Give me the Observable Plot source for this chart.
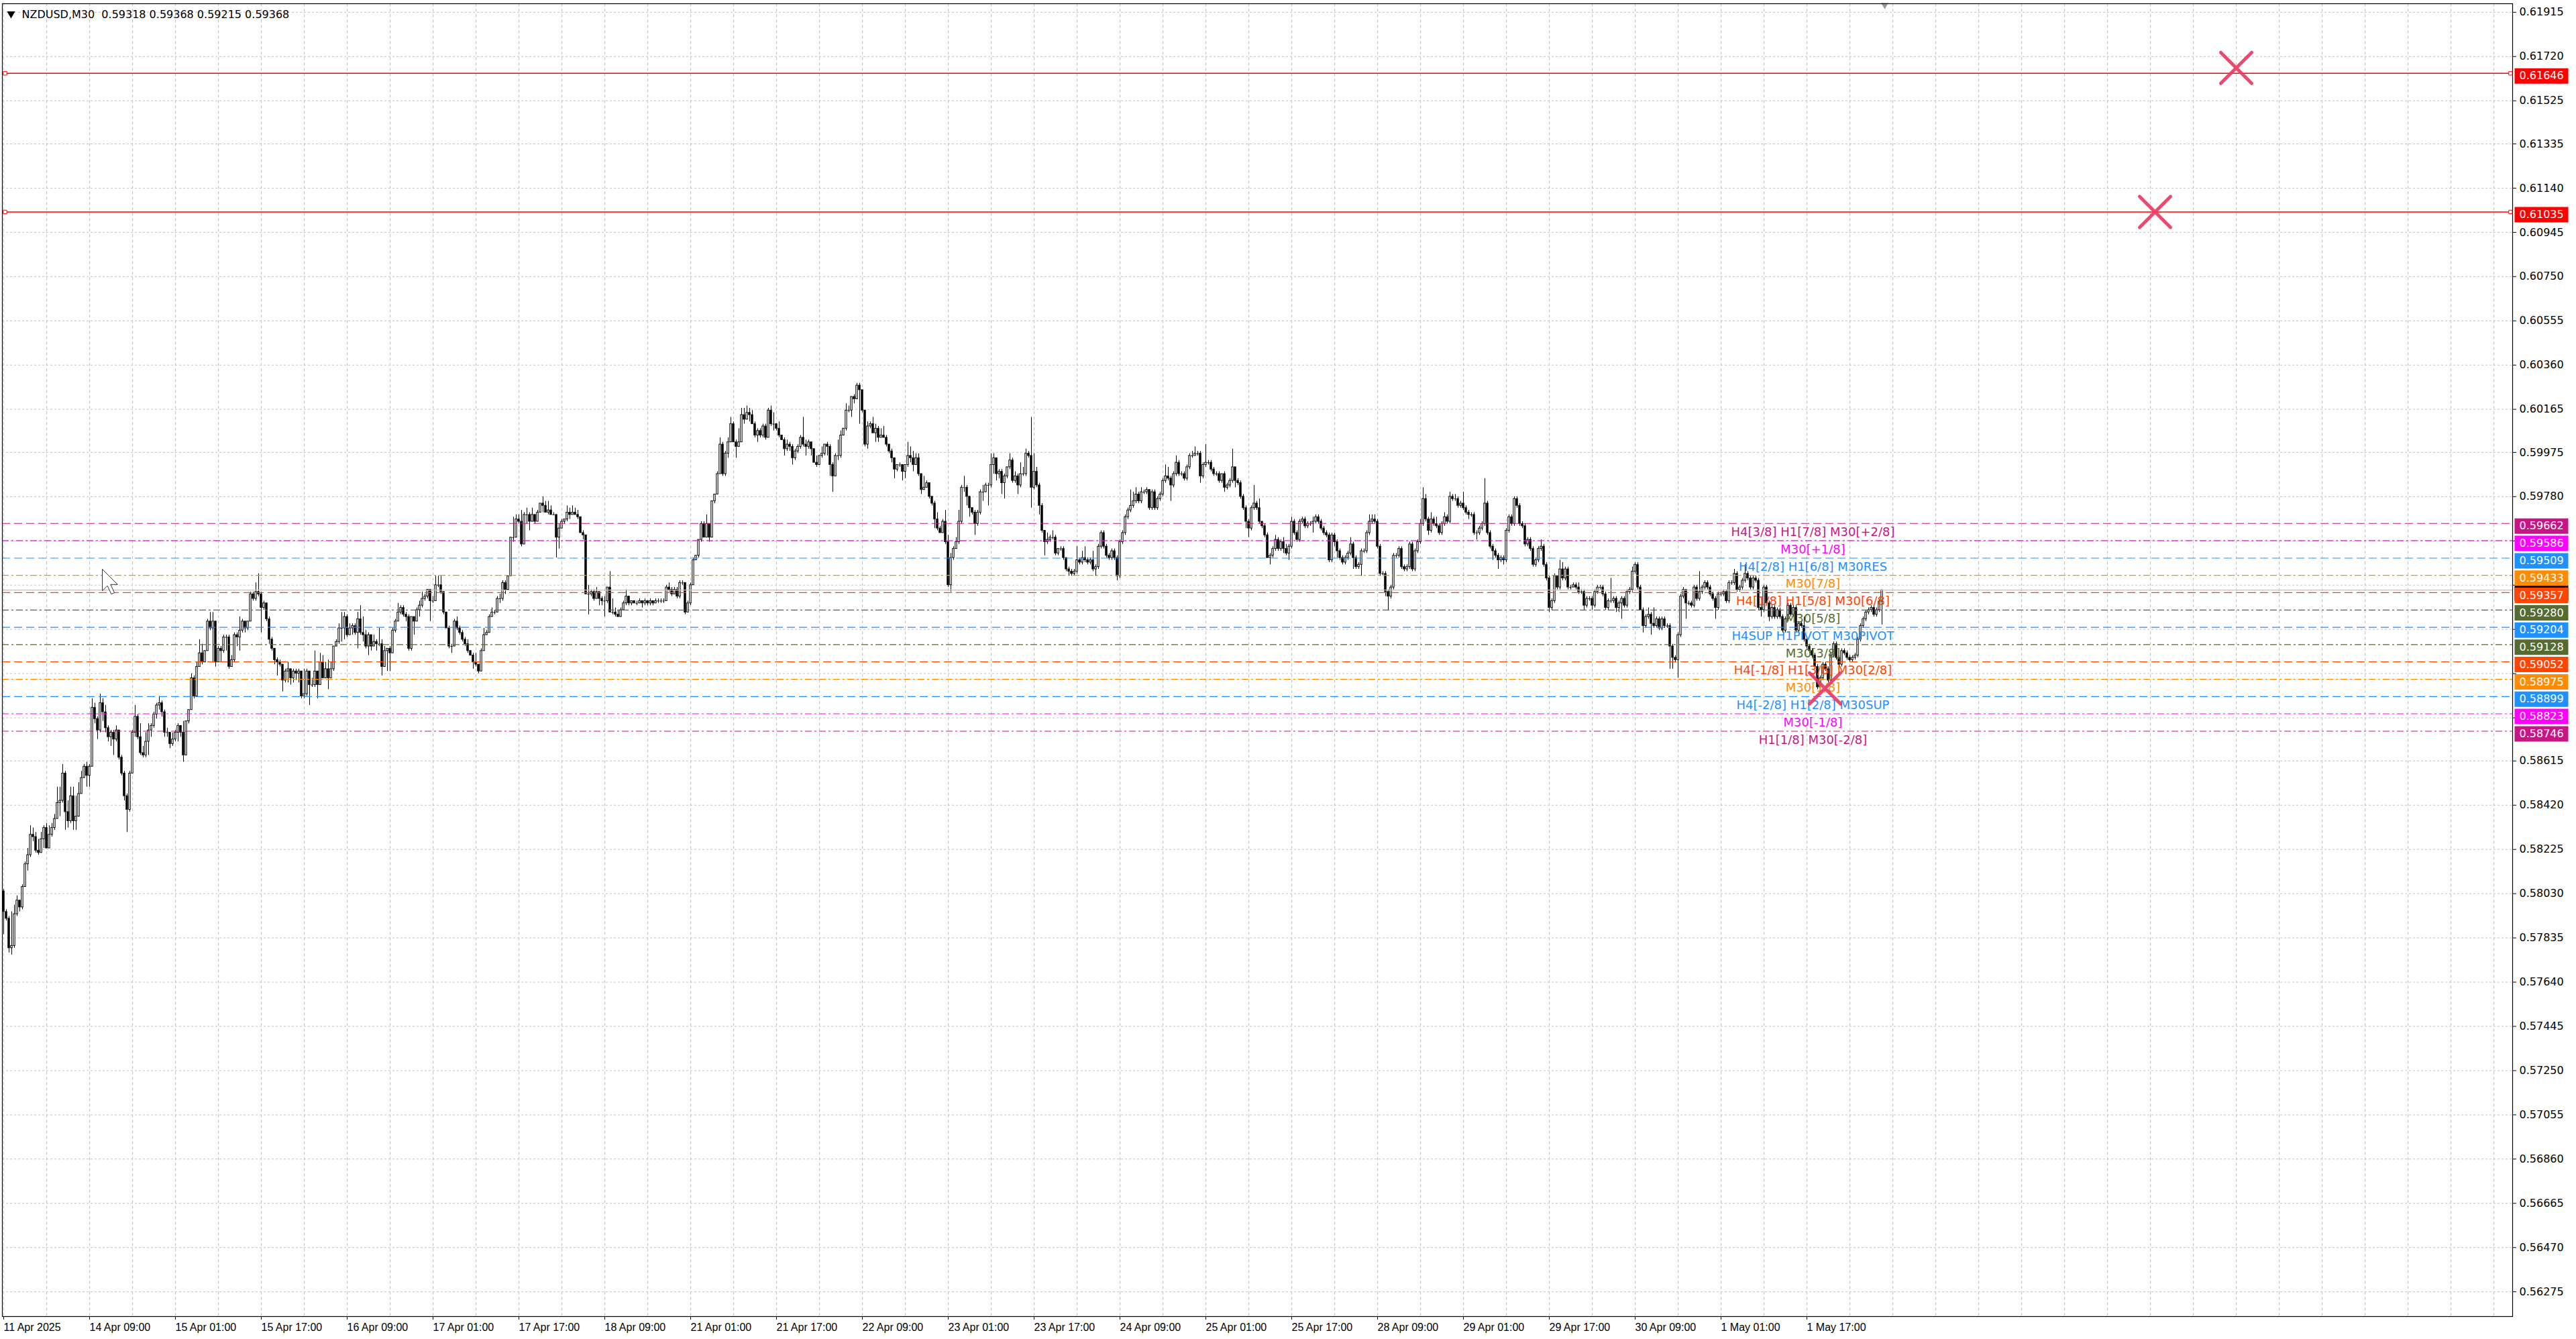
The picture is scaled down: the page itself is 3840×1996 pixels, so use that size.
<!DOCTYPE html>
<html><head><meta charset="utf-8">
<script src="https://cdn.jsdelivr.net/npm/d3@7"></script>
<script src="https://cdn.jsdelivr.net/npm/@observablehq/plot@0.6"></script>
<style>html,body{margin:0;padding:0;background:#fff;} #chart svg{display:block;}</style>
</head><body><div id="chart"></div>
<script>
const symbolName = "NZDUSD,M30";
const lastBarOHLC = [0.59318, 0.59368, 0.59215, 0.59368];
const firstOpen = 5804;
// M30 bars, prices in pips (x 1e-4)
const closePips = [
5795,5792,5779,5780,5794,5800,5797,5806,5816,5820,5829,5828,5822,5821,5827,5832,
5823,5829,5832,5836,5843,5844,5856,5839,5835,5846,5835,5837,5847,5854,5859,5855,
5859,5885,5880,5875,5887,5883,5876,5872,5874,5871,5875,5863,5856,5846,5840,5856,
5874,5881,5872,5865,5864,5870,5875,5877,5882,5886,5887,5883,5874,5874,5869,5871,
5874,5877,5874,5864,5879,5884,5898,5890,5903,5909,5905,5910,5923,5920,5923,5905,
5911,5910,5916,5916,5903,5906,5917,5916,5919,5923,5920,5923,5935,5933,5936,5935,
5929,5931,5924,5915,5911,5906,5905,5904,5897,5901,5902,5898,5901,5900,5901,5890,
5891,5901,5895,5895,5901,5895,5905,5898,5902,5898,5902,5912,5914,5920,5920,5925,
5917,5920,5921,5918,5924,5918,5917,5912,5917,5912,5914,5913,5913,5903,5910,5911,
5909,5919,5923,5927,5929,5926,5925,5911,5925,5923,5928,5930,5933,5934,5937,5932,
5932,5939,5939,5936,5927,5920,5912,5912,5923,5920,5918,5915,5913,5910,5908,5905,
5904,5901,5910,5917,5918,5925,5927,5927,5933,5933,5940,5937,5943,5960,5960,5968,
5967,5957,5970,5970,5967,5970,5967,5971,5975,5974,5971,5972,5970,5970,5960,5964,
5967,5968,5971,5970,5971,5970,5969,5962,5961,5935,5935,5936,5933,5936,5933,5932,
5932,5938,5927,5927,5926,5925,5928,5931,5934,5931,5932,5931,5931,5932,5931,5932,
5931,5932,5931,5932,5932,5932,5932,5938,5937,5935,5937,5934,5940,5940,5927,5931,
5939,5950,5952,5959,5966,5960,5966,5960,5976,5979,5988,6001,5988,5997,6002,6010,
6002,6000,6002,6014,6012,6015,6014,6010,6005,6007,6005,6009,6004,6016,6010,6010,
6008,6005,6003,5999,6001,6000,5995,5998,6000,6004,6001,6000,6002,5999,5993,5992,
5996,5997,6001,6000,5992,5987,5996,5996,6005,6008,6016,6016,6022,6021,6027,6025,
6016,6001,6009,6010,6006,6008,6004,6005,6004,6001,5998,5995,5990,5992,5992,5989,
5992,5996,5995,5992,5995,5988,5981,5982,5984,5978,5975,5968,5964,5962,5967,5958,
5939,5951,5955,5958,5967,5982,5982,5978,5973,5971,5966,5971,5980,5980,5983,5983,
5992,5995,5988,5989,5984,5987,5991,5994,5985,5987,5983,5988,5988,5997,5996,5982,
5989,5983,5974,5963,5958,5959,5960,5960,5953,5955,5955,5951,5946,5945,5944,5945,
5950,5949,5951,5950,5949,5950,5946,5947,5956,5962,5956,5952,5951,5954,5951,5943,
5958,5962,5969,5972,5974,5976,5979,5976,5980,5980,5981,5973,5980,5973,5977,5979,
5985,5987,5986,5983,5988,5993,5988,5988,5986,5991,5996,5996,5997,5997,5987,5992,
5993,5993,5990,5988,5988,5985,5988,5982,5983,5985,5991,5985,5984,5978,5973,5967,
5964,5973,5975,5973,5967,5965,5961,5951,5952,5955,5959,5955,5958,5955,5953,5956,
5967,5962,5959,5967,5968,5965,5966,5966,5967,5969,5967,5964,5962,5961,5950,5961,
5958,5954,5951,5949,5951,5953,5957,5951,5947,5948,5954,5954,5962,5967,5968,5967,
5956,5944,5944,5936,5934,5938,5952,5952,5955,5947,5946,5947,5957,5946,5954,5958,
5966,5977,5968,5963,5968,5966,5965,5962,5966,5969,5967,5978,5977,5977,5974,5975,
5973,5971,5970,5970,5962,5962,5964,5966,5975,5962,5956,5954,5952,5950,5951,5950,
5963,5969,5966,5977,5974,5966,5965,5957,5959,5955,5948,5950,5955,5956,5948,5942,
5929,5932,5943,5938,5946,5942,5946,5938,5938,5939,5938,5936,5936,5930,5933,5933,
5930,5936,5938,5938,5935,5929,5932,5932,5933,5929,5931,5933,5930,5936,5937,5945,
5948,5938,5928,5921,5925,5926,5922,5921,5924,5920,5924,5921,5921,5912,5907,5906,
5917,5934,5937,5931,5931,5930,5938,5933,5936,5938,5940,5938,5935,5933,5929,5935,
5935,5936,5932,5940,5940,5944,5937,5938,5941,5944,5942,5938,5942,5941,5929,5928,
5938,5931,5925,5929,5925,5928,5925,5919,5924,5930,5926,5929,5919,5922,5921,5915,
5912,5910,5908,5903,5894,5898,5904,5902,5897,5908,5913,5907,5904,5910,5909,5907,
5906,5907,5908,5915,5921,5924,5927,5928,5929,5926,5928,5931.8,5936.8
];
const highPips = [
5805,5796,5793,5795,5798,5802,5800,5807,5817,5823,5833,5832,5830,5827,5830,5833,
5834,5833,5834,5838,5850,5850,5860,5857,5844,5850,5850,5846,5852,5857,5860,5861,
5860,5889,5887,5881,5891,5889,5886,5877,5875,5875,5877,5875,5864,5857,5847,5857,
5875,5886,5882,5878,5868,5874,5878,5878,5883,5887,5890,5888,5884,5876,5872,5874,
5875,5878,5875,5879,5879,5884,5900,5899,5905,5915,5913,5910,5924,5927,5927,5923,
5912,5912,5917,5917,5917,5908,5918,5918,5925,5924,5923,5923,5936,5936,5940,5944,
5936,5932,5930,5925,5916,5911,5907,5906,5904,5902,5905,5902,5902,5902,5902,5901,
5902,5902,5901,5898,5910,5901,5909,5908,5905,5906,5905,5912,5915,5922,5927,5927,
5926,5922,5922,5922,5927,5930,5925,5919,5918,5917,5917,5915,5920,5915,5912,5911,
5912,5920,5924,5931,5930,5930,5927,5926,5925,5925,5929,5932,5936,5935,5937,5937,
5934,5943,5943,5943,5936,5927,5921,5913,5924,5925,5921,5919,5916,5915,5910,5909,
5909,5904,5911,5920,5919,5926,5929,5928,5934,5935,5941,5941,5943,5960,5969,5970,
5970,5972,5971,5973,5971,5973,5970,5972,5975,5978,5976,5976,5974,5971,5967,5966,
5968,5968,5974,5973,5974,5973,5972,5969,5963,5961,5939,5937,5937,5938,5936,5934,
5934,5938,5945,5933,5929,5928,5929,5932,5937,5934,5932,5932,5932,5933,5932,5933,
5932,5933,5932,5933,5933,5933,5933,5939,5940,5938,5938,5938,5941,5941,5932,5932,
5940,5951,5952,5959,5967,5967,5970,5966,5976,5979,5989,6004,6002,5998,6004,6013,
6011,6003,6008,6017,6017,6018,6017,6016,6011,6008,6008,6010,6010,6017,6018,6015,
6010,6011,6005,6004,6003,6002,6001,5999,6001,6005,6013,6003,6003,6002,5998,5996,
5996,6000,6001,6002,6001,5993,5997,6003,6007,6008,6019,6018,6022,6023,6028,6028,
6025,6016,6011,6011,6013,6010,6009,6008,6009,6005,6001,5999,5995,5992,5993,5992,
5992,6002,6000,5998,5997,5997,5988,5987,5985,5984,5978,5976,5971,5965,5968,5972,
5961,5953,5956,5960,5972,5983,5987,5983,5978,5973,5972,5972,5981,5983,5984,5984,
5997,5997,5995,5990,5990,5988,5991,5997,5995,5989,5988,5993,5991,5999,5998,6013,
5997,5991,5984,5975,5963,5962,5961,5963,5961,5955,5956,5956,5951,5947,5946,5946,
5956,5951,5954,5956,5951,5951,5954,5948,5957,5963,5963,5957,5953,5955,5955,5952,
5959,5963,5970,5973,5981,5980,5982,5980,5982,5981,5982,5981,5981,5981,5978,5980,
5986,5992,5991,5987,5989,5996,5994,5989,5989,5992,5997,5998,6000,5998,5998,5993,
6001,5994,5994,5991,5989,5989,5988,5989,5984,5986,5999,5991,5986,5985,5979,5974,
5968,5974,5983,5976,5977,5967,5966,5962,5953,5956,5961,5960,5959,5960,5957,5957,
5969,5968,5963,5968,5969,5969,5967,5967,5969,5970,5970,5968,5965,5963,5962,5962,
5962,5959,5955,5952,5952,5954,5960,5958,5952,5949,5955,5955,5963,5970,5970,5970,
5968,5957,5945,5945,5937,5939,5953,5953,5956,5956,5948,5948,5958,5958,5955,5959,
5968,5982,5979,5969,5971,5969,5969,5966,5967,5971,5970,5980,5979,5979,5978,5976,
5980,5974,5972,5971,5971,5963,5965,5967,5986,5976,5963,5957,5955,5953,5952,5952,
5964,5970,5970,5978,5978,5975,5967,5966,5960,5960,5956,5951,5956,5959,5957,5949,
5943,5933,5944,5943,5950,5949,5947,5947,5939,5940,5940,5940,5937,5937,5934,5934,
5934,5937,5939,5939,5939,5936,5933,5942,5934,5934,5932,5934,5934,5937,5938,5947,
5949,5949,5939,5929,5926,5929,5927,5929,5925,5925,5925,5925,5922,5922,5913,5908,
5918,5935,5938,5937,5932,5932,5939,5939,5945,5939,5941,5941,5939,5936,5934,5936,
5936,5937,5937,5941,5941,5946,5945,5939,5942,5948,5945,5943,5943,5943,5942,5930,
5939,5939,5932,5930,5930,5929,5929,5926,5925,5931,5931,5930,5930,5923,5923,5925,
5916,5913,5911,5909,5904,5899,5905,5905,5903,5909,5914,5914,5908,5911,5911,5910,
5908,5908,5909,5916,5922,5925,5928,5929,5930,5930,5929,5933,5936.8
];
const lowPips = [
5785,5791,5777,5776,5779,5793,5795,5796,5806,5813,5819,5826,5821,5820,5826,5823,
5823,5826,5828,5831,5836,5837,5843,5831,5832,5834,5831,5831,5842,5849,5854,5850,
5850,5860,5878,5871,5874,5879,5874,5870,5868,5864,5870,5862,5855,5844,5830,5839,
5856,5872,5871,5864,5863,5863,5864,5872,5876,5880,5884,5881,5872,5872,5867,5868,
5870,5870,5872,5861,5864,5878,5884,5889,5890,5905,5904,5905,5910,5919,5905,5903,
5906,5905,5909,5910,5902,5903,5905,5912,5910,5918,5918,5919,5923,5932,5932,5934,
5918,5928,5923,5913,5910,5904,5899,5903,5892,5896,5896,5895,5896,5897,5896,5889,
5889,5890,5886,5894,5894,5889,5895,5898,5898,5893,5899,5901,5912,5913,5914,5915,
5916,5917,5917,5917,5911,5917,5914,5911,5908,5910,5913,5910,5912,5899,5903,5901,
5901,5909,5918,5923,5926,5925,5923,5910,5910,5917,5923,5925,5929,5932,5933,5923,
5931,5932,5938,5935,5926,5920,5911,5909,5912,5919,5917,5914,5912,5909,5908,5902,
5903,5900,5901,5910,5917,5918,5925,5926,5927,5931,5932,5935,5937,5943,5958,5960,
5966,5956,5957,5966,5963,5968,5966,5968,5971,5971,5971,5970,5970,5970,5951,5955,
5964,5966,5967,5968,5970,5970,5968,5962,5959,5935,5926,5934,5932,5933,5930,5930,
5925,5931,5927,5926,5925,5925,5925,5928,5930,5930,5930,5931,5930,5931,5929,5930,
5930,5930,5930,5931,5931,5931,5931,5932,5936,5934,5935,5933,5933,5939,5926,5928,
5930,5939,5950,5951,5958,5960,5960,5958,5960,5975,5979,5988,5987,5987,5995,6002,
6002,5995,6000,6002,6010,6012,6011,6010,6004,6002,6004,6004,6003,6004,6009,6007,
6007,6004,6003,5996,5998,5998,5992,5994,5997,5999,6000,5996,5999,5996,5993,5991,
5992,5995,5996,5996,5987,5980,5987,5994,5995,6005,6007,6015,6013,6019,6021,6010,
6015,6000,5999,6008,6006,6002,6002,6004,6004,6000,5997,5993,5986,5989,5991,5985,
5986,5991,5993,5989,5992,5987,5979,5981,5983,5977,5974,5964,5963,5962,5962,5957,
5938,5936,5950,5955,5957,5966,5980,5974,5969,5970,5961,5965,5970,5976,5980,5974,
5982,5988,5985,5986,5979,5977,5986,5990,5984,5984,5979,5982,5987,5987,5995,5973,
5981,5982,5970,5962,5952,5957,5958,5959,5952,5952,5954,5950,5945,5943,5943,5943,
5944,5948,5948,5949,5948,5948,5945,5943,5946,5955,5955,5951,5950,5950,5950,5941,
5942,5957,5961,5968,5971,5973,5975,5975,5975,5979,5979,5972,5972,5972,5972,5976,
5978,5984,5985,5976,5982,5987,5987,5987,5985,5985,5990,5995,5996,5996,5984,5986,
5991,5992,5989,5987,5987,5984,5984,5980,5981,5982,5984,5982,5983,5977,5972,5964,
5960,5963,5972,5972,5966,5964,5960,5951,5948,5951,5954,5954,5954,5953,5952,5950,
5955,5961,5958,5958,5966,5964,5964,5965,5962,5966,5966,5963,5961,5960,5949,5949,
5956,5951,5950,5948,5948,5950,5952,5946,5946,5946,5943,5953,5953,5961,5966,5966,
5955,5943,5943,5934,5928,5933,5937,5951,5951,5946,5945,5945,5946,5945,5945,5953,
5957,5965,5967,5961,5962,5965,5964,5961,5961,5965,5966,5966,5976,5976,5973,5973,
5972,5970,5968,5969,5961,5959,5961,5963,5965,5961,5955,5950,5951,5946,5949,5948,
5949,5962,5965,5965,5973,5965,5964,5956,5956,5954,5947,5947,5949,5954,5947,5941,
5927,5928,5931,5937,5937,5941,5941,5937,5937,5938,5937,5935,5935,5928,5929,5932,
5928,5929,5935,5937,5934,5928,5928,5931,5931,5927,5927,5924,5929,5929,5935,5936,
5944,5937,5928,5918,5920,5924,5917,5920,5920,5919,5919,5920,5920,5902,5902,5905,
5898,5916,5933,5924,5930,5929,5929,5932,5932,5935,5937,5937,5934,5932,5924,5928,
5934,5934,5931,5931,5939,5939,5936,5936,5937,5940,5941,5937,5937,5940,5928,5925,
5927,5930,5923,5924,5924,5924,5924,5918,5918,5923,5925,5925,5918,5918,5920,5914,
5911,5909,5907,5902,5893,5893,5897,5901,5896,5896,5907,5906,5903,5903,5908,5906,
5905,5905,5906,5907,5914,5920,5923,5926,5927,5925,5925,5927,5921.5
];

const yTicks = [0.61915,0.61720,0.61525,0.61335,0.61140,0.60945,0.60750,0.60555,0.60360,0.60165,0.59975,0.59780,0.59585,0.59390,0.59195,0.59000,0.58805,0.58615,0.58420,0.58225,0.58030,0.57835,0.57640,0.57445,0.57250,0.57055,0.56860,0.56665,0.56470,0.56275];
const xTickBars = [0,32,64,96,128,160,192,224,256,288,320,352,384,416,448,480,512,544,576,608,640,672];
const xTickLabels = ["11 Apr 2025","14 Apr 09:00","15 Apr 01:00","15 Apr 17:00","16 Apr 09:00","17 Apr 01:00","17 Apr 17:00","18 Apr 09:00","21 Apr 01:00","21 Apr 17:00","22 Apr 09:00","23 Apr 01:00","23 Apr 17:00","24 Apr 09:00","25 Apr 01:00","25 Apr 17:00","28 Apr 09:00","29 Apr 01:00","29 Apr 17:00","30 Apr 09:00","1 May 01:00","1 May 17:00"];
const gridBars = d3.range(0, 936, 16);

const levelPrices = [0.59662,0.59586,0.59509,0.59433,0.59357,0.59280,0.59204,0.59128,0.59052,0.58975,0.58899,0.58823,0.58746];
const levelColors = ["#C71585","#FF00FF","#1E90FF","#FF8C00","#FF4500","#556B2F","#1E90FF","#556B2F","#FF4500","#FF8C00","#1E90FF","#FF00FF","#C71585"];
const levelStyles = ["dash","dashdot","dash","dashdot","dash","dashdot","dash","dashdot","dash","dashdot","dash","dashdot","dashdot"];
const levelNames = ["H4[3/8] H1[7/8] M30[+2/8]","M30[+1/8]","H4[2/8] H1[6/8] M30RES","M30[7/8]","H4[1/8] H1[5/8] M30[6/8]","M30[5/8]","H4SUP H1PIVOT M30PIVOT","M30[3/8]","H4[-1/8] H1[3/8] M30[2/8]","M30[1/8]","H4[-2/8] H1[2/8] M30SUP","M30[-1/8]","H1[1/8] M30[-2/8]"];
const labelBar = 674.25;

const redLinePrices = [0.61646, 0.61035];
const currentPrice = 0.59368;
const crossBars = [832, 801.75, 678.75];
const crossPrices = [0.6167, 0.61035, 0.58935];
const shiftBar = 701;

// ---- build tables ----
const bars = closePips.map((c, i) => {
  const o = i ? closePips[i - 1] : firstOpen;
  return {i, o: o / 1e4, c: c / 1e4,
    h: Math.max(highPips[i], o, c) / 1e4,
    l: Math.min(lowPips[i], o, c) / 1e4};
});
const levels = levelPrices.map((p, k) => ({price: p, color: levelColors[k], style: levelStyles[k], name: levelNames[k]}));
const crosses = crossBars.map((b, k) => ({bar: b, price: crossPrices[k]}));
const labelByBar = new Map(xTickBars.map((b, k) => [b, xTickLabels[k]]));
const colorBadges = levels.map(d => ({price: d.price, color: d.color}))
  .concat(redLinePrices.map(p => ({price: p, color: "#FF0000"})));
const badgePrices = colorBadges.map(d => d.price).concat([currentPrice]);
const hiddenTick = t => badgePrices.some(p => Math.abs(p - t) < 0.0003);
const boxSymbol = {draw(ctx) { ctx.moveTo(-40, -11.5); ctx.lineTo(40, -11.5); ctx.lineTo(40, 11.5); ctx.lineTo(-40, 11.5); ctx.closePath(); }};
const cursorSymbol = {draw(ctx) {
  const s = 1.9, p = [[0,0],[0,17],[4,13],[7,19.5],[9.5,18.5],[6.5,12],[12,12]];
  ctx.moveTo(p[0][0]*s, p[0][1]*s);
  for (const [a, b] of p.slice(1)) ctx.lineTo(a*s, b*s);
  ctx.closePath();
}};
const titleText = symbolName + " \u00a0" + lastBarOHLC.map(v => v.toFixed(5)).join(" ");

const chart = Plot.plot({
  width: 3840, height: 1996,
  marginLeft: 3, marginRight: 95, marginTop: 5, marginBottom: 34,
  x: {domain: [-0.5, 935], axis: null},
  y: {domain: [0.56166, 0.61953], axis: null},
  color: {type: "identity"},
  style: {background: "white", fontFamily: "DejaVu Sans, sans-serif", fontSize: "16px", color: "black", overflow: "visible"},
  marks: [
    Plot.ruleY(yTicks, {stroke: "#c4c4c4", strokeDasharray: "3,3"}),
    Plot.ruleX(gridBars, {stroke: "#c4c4c4", strokeDasharray: "4,4"}),
    Plot.ruleX(bars, {x: "i", y1: "l", y2: "h", stroke: "black", strokeWidth: 1}),
    Plot.rect(bars.filter(d => d.c > d.o), {x1: d => d.i - 0.3, x2: d => d.i + 0.3, y1: "o", y2: "c", fill: "white", stroke: "black", strokeWidth: 1}),
    Plot.rect(bars.filter(d => d.c < d.o), {x1: d => d.i - 0.3, x2: d => d.i + 0.3, y1: "o", y2: "c", fill: "black", stroke: "black", strokeWidth: 1}),
    Plot.ruleY(bars.filter(d => d.c === d.o), {y: "c", x1: d => d.i - 0.4, x2: d => d.i + 0.4, stroke: "black"}),
    Plot.ruleY(levels.filter(d => d.style === "dash"), {y: "price", stroke: "color", strokeWidth: 1.2, strokeDasharray: "12,6"}),
    Plot.ruleY(levels.filter(d => d.style === "dashdot"), {y: "price", stroke: "color", strokeWidth: 1.2, strokeDasharray: "10,4,3,4"}),
    Plot.ruleY([currentPrice], {stroke: "#c0c0c0", strokeWidth: 1.2}),
    Plot.ruleY(redLinePrices, {stroke: "#FF0000", strokeWidth: 1.5}),
    Plot.dot(redLinePrices, {y: d => d, frameAnchor: "left", dx: 4, symbol: "square", r: 3, stroke: "#FF0000", fill: "white", strokeWidth: 1}),
    Plot.dot(redLinePrices, {y: d => d, frameAnchor: "right", dx: -3, symbol: "square", r: 3, stroke: "#FF0000", fill: "white", strokeWidth: 1}),
    Plot.text(levels, {x: () => labelBar, y: "price", text: "name", fill: "color", fontSize: 18, fontFamily: "DejaVu Sans, sans-serif", lineAnchor: "top", dy: 6, textAnchor: "middle"}),
    Plot.dot(crosses, {x: "bar", y: "price", symbol: "times", r: 21, stroke: "#EC3A64", strokeWidth: 5, strokeLinecap: "round", strokeOpacity: 0.92}),
    Plot.dot([0], {frameAnchor: "top-left", dx: 149, dy: 843, symbol: cursorSymbol, fill: "white", stroke: "#333", strokeWidth: 1}),
    Plot.axisY(yTicks, {anchor: "right", tickSize: 5, tickPadding: 5, tickFormat: d => hiddenTick(d) ? "" : d.toFixed(5), fontSize: 16, label: null}),
    Plot.axisX(xTickBars, {anchor: "bottom", tickSize: 5, tickPadding: 5, tickFormat: d => labelByBar.get(d), textAnchor: "start", fontSize: 16, fontFamily: "Liberation Sans, Arial, sans-serif", label: null}),
    Plot.dot([currentPrice], {y: d => d, frameAnchor: "right", dx: 43, dy: 4, symbol: boxSymbol, fill: "black", r: 3}),
    Plot.dot(colorBadges, {y: "price", frameAnchor: "right", dx: 43, dy: 4, symbol: boxSymbol, fill: "color", r: 3}),
    Plot.text(colorBadges, {y: "price", text: d => d.price.toFixed(5), frameAnchor: "right", dx: 10, dy: 4, textAnchor: "start", fill: "white", fontSize: 16}),
    Plot.text([titleText], {frameAnchor: "top-left", dx: 29, dy: 10, textAnchor: "start", lineAnchor: "top", fontSize: 16, fill: "black"}),
    Plot.dot([0], {frameAnchor: "top-left", dx: 13, dy: 15, symbol: "triangle", rotate: 180, r: 4.5, fill: "black"}),
    Plot.dot([shiftBar], {x: d => d, frameAnchor: "top", dy: 2, symbol: "triangle", rotate: 180, r: 4, fill: "#9a9a9a"}),
    Plot.frame({stroke: "black", strokeWidth: 1.2})
  ]
});
document.getElementById("chart").appendChild(chart);
</script>
</body></html>
